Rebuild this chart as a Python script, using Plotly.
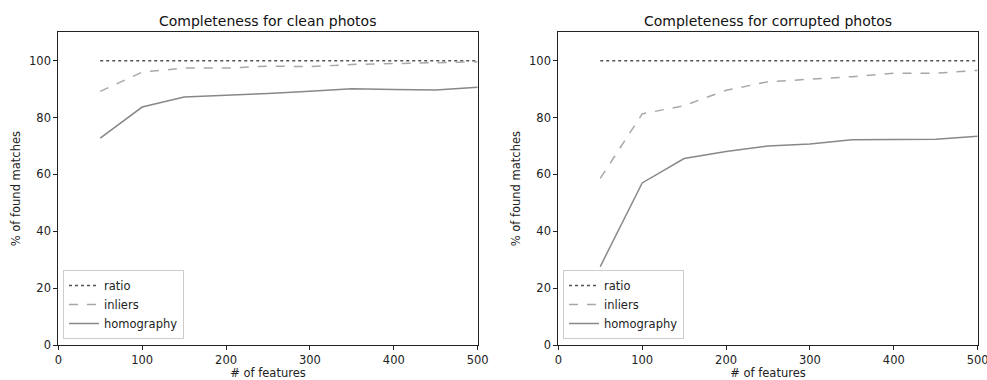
import plotly.graph_objects as go

features = [50, 100, 150, 200, 250, 300, 350, 400, 450, 500]

clean_ratio = [100, 100, 100, 100, 100, 100, 100, 100, 100, 100]
clean_inliers = [89.2, 96.0, 97.4, 97.4, 98.1, 97.9, 98.7, 99.0, 99.3, 99.6]
clean_homography = [72.8, 83.7, 87.2, 87.8, 88.5, 89.3, 90.1, 89.9, 89.7, 90.7]

corr_ratio = [100, 100, 100, 100, 100, 100, 100, 100, 100, 100]
corr_inliers = [58.6, 81.3, 84.2, 89.6, 92.6, 93.5, 94.4, 95.6, 95.6, 96.6]
corr_homography = [27.6, 57.0, 65.6, 68.1, 70.0, 70.7, 72.2, 72.2, 72.4, 73.4]

series_names = ["ratio", "inliers", "homography"]
series_styles = [("#555555", "dot"), ("#a8a8a8", "dash"), ("#888888", "solid")]

titles = ["Completeness for clean photos", "Completeness for corrupted photos"]
x_ticks = [0, 100, 200, 300, 400, 500]
y_ticks = [0, 20, 40, 60, 80, 100]

W, H = 987, 380
font = "DejaVu Sans"

fig = go.Figure()

panels = [
    (clean_ratio, clean_inliers, clean_homography),
    (corr_ratio, corr_inliers, corr_homography),
]
x_domains = [(58.3 / W, 477.7 / W), (558.3 / W, 977.7 / W)]
y_domain = ((H - 345) / H, (H - 32.3) / H)

for i, data in enumerate(panels):
    xa = "x" if i == 0 else "x2"
    ya = "y" if i == 0 else "y2"
    leg = "legend" if i == 0 else "legend2"
    for name, vals, (color, dash) in zip(series_names, data, series_styles):
        fig.add_trace(go.Scatter(
            x=features, y=vals, mode="lines", name=name,
            line=dict(color=color, dash=dash, width=1.5),
            xaxis=xa, yaxis=ya, legend=leg,
        ))

axis_common = dict(
    showgrid=False, zeroline=False, showline=True, linecolor="#222222",
    linewidth=1, mirror=True, ticks="outside", ticklen=4, tickwidth=1,
    tickcolor="#222222", tickfont=dict(family=font, size=11.5, color="#222222"),
    automargin=False, ticklabeloverflow="allow",
)

for i in range(2):
    sfx = "" if i == 0 else "2"
    fig.update_layout(**{
        f"xaxis{sfx}": dict(
            domain=list(x_domains[i]), range=[0, 500], tickvals=x_ticks,
            anchor=f"y{sfx}",
            title=dict(text="# of features", font=dict(family=font, size=11.5, color="#222222"), standoff=4),
            **axis_common),
        f"yaxis{sfx}": dict(
            domain=list(y_domain), range=[0, 110], tickvals=y_ticks,
            anchor=f"x{sfx}",
            title=dict(text="% of found matches", font=dict(family=font, size=11.5, color="#222222"), standoff=6),
            **axis_common),
    })
    fig.add_annotation(
        text=titles[i], xref="paper", yref="paper",
        x=(x_domains[i][0] + x_domains[i][1]) / 2, y=(H - 21) / H,
        xanchor="center", yanchor="middle", showarrow=False,
        font=dict(family=font, size=14, color="#111111"),
    )

legend_common = dict(
    xanchor="left", yanchor="bottom", bgcolor="rgba(255,255,255,0.8)",
    bordercolor="#cccccc", borderwidth=1,
    font=dict(family=font, size=11.5, color="#222222"),
    tracegroupgap=0, itemwidth=30,
)
fig.update_layout(
    legend=dict(x=63 / W, y=(H - 339) / H, **legend_common),
    legend2=dict(x=563 / W, y=(H - 339) / H, **legend_common),
)

fig.update_layout(
    width=W, height=H, margin=dict(l=0, r=0, t=0, b=0, autoexpand=False),
    paper_bgcolor="white", plot_bgcolor="white", showlegend=True,
    font=dict(family=font),
)

fig.write_html(
    "out.html",
    config={"displayModeBar": False},
    post_script="document.body.style.margin='0';document.body.style.overflow='hidden';",
)
